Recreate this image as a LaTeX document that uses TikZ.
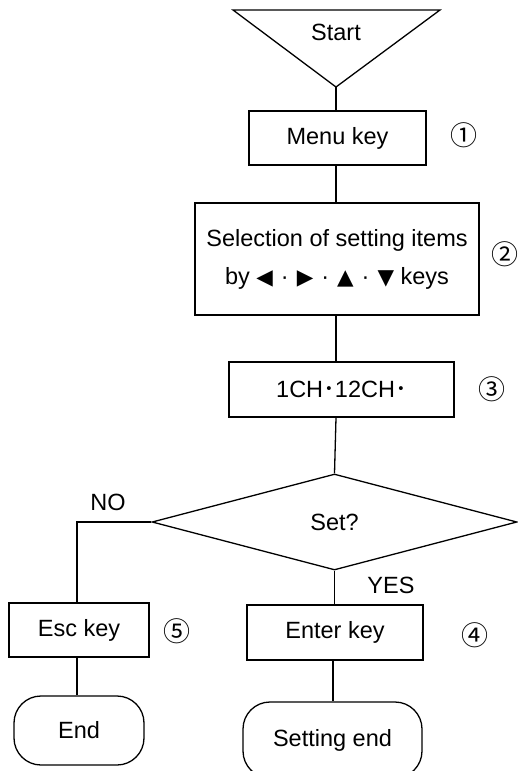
\documentclass[tikz,border=0pt]{standalone}
\usepackage{fontspec}
\setmainfont{Liberation Sans}
\newfontfamily\symfont{DejaVu Sans}
\newfontfamily\cjk{Noto Sans CJK JP}
\usetikzlibrary{shapes.geometric}
\newcommand{\tri}[1]{{\symfont\fontsize{21.5}{38}\selectfont #1}}
\newcommand{\sepdot}{\hspace{8pt}·\hspace{8pt}}
\begin{document}
\begin{tikzpicture}[x=1pt,y=-1pt,line width=1.3pt,
  font=\fontsize{23.5}{28}\selectfont,
  box/.style={draw,rectangle,inner sep=0pt},
  term/.style={draw,rectangle,rounded corners=27pt,inner sep=0pt},
  num/.style={font=\fontsize{27}{28}\cjk,inner sep=0pt},
  lbl/.style={inner sep=0pt}]
\clip (0,0) rectangle (518,771);
% Start triangle
\draw (233,10) -- (440,10) -- (336,87) -- cycle;
\node[lbl] (start) at (336,32) {Start};
\coordinate (apex) at (336,87);
% boxes
\node[box,minimum width=177pt,minimum height=54pt] (menu) at (337.5,138) {Menu key};
\node[num] (n1) at (463.5,135) {①};
\node[box,minimum width=284pt,minimum height=112pt,align=center,
  font=\fontsize{23.5}{38}\selectfont] (sel) at (337,259)
  {Selection of setting items\\by \tri{◀}\sepdot\tri{▶}\sepdot\tri{▲}\sepdot\tri{▼} keys};
\node[num] (n2) at (505,254) {②};
\node[box,minimum width=225pt,minimum height=55pt] (ch) at (341.5,389.5) {1CH{\cjk ･}12CH{\cjk ･}};
\node[num] (n3) at (492,389) {③};
\node[draw,diamond,minimum width=365pt,minimum height=96pt,inner sep=0pt] (set) at (334.5,522) {Set?};
\node[lbl] (no) at (108,502) {NO};
\node[lbl] (yes) at (391,585) {YES};
\node[box,minimum width=140pt,minimum height=54pt] (esc) at (79,630) {Esc key};
\node[num] (n5) at (176.5,631) {⑤};
\node[box,minimum width=176pt,minimum height=55pt] (enter) at (335,632.5) {Enter key};
\node[num] (n4) at (475,635) {④};
\node[term,minimum width=130pt,minimum height=69pt] (end) at (79,730.5) {End};
\node[term,minimum width=179pt,minimum height=76pt] (send) at (332.5,740) {Setting end};
% connectors
\draw (apex) -- (apex |- menu.north);
\draw (apex |- menu.south) -- (apex |- sel.north);
\draw (apex |- sel.south) -- (apex |- ch.north);
\draw (apex |- ch.south) -- (set.north);
\draw (set.west) -| (esc.north -| 77,0);
\draw (set.south) -- (set.south |- enter.north);
\draw (esc.south -| 77,0) -- (end.north -| 77,0);
\draw (333,0 |- enter.south) -- (333,0 |- send.north);
\end{tikzpicture}
\end{document}
